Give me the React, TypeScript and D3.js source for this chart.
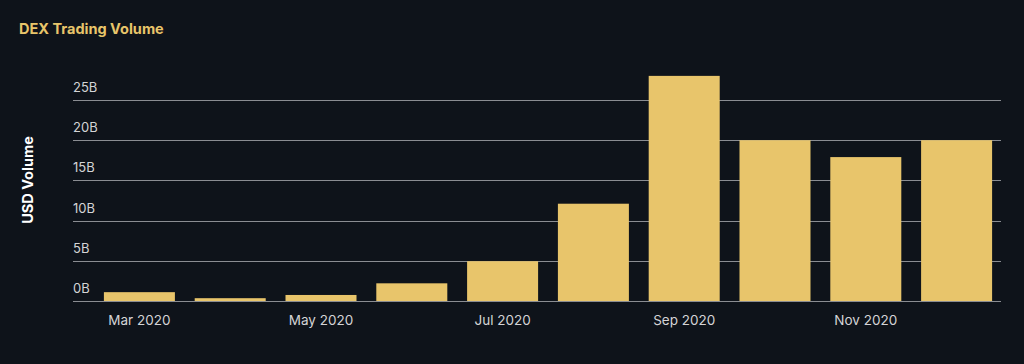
import React, { useEffect, useRef } from 'react';
import * as d3 from 'd3';

const months = ['Mar 2020', 'Apr 2020', 'May 2020', 'Jun 2020', 'Jul 2020', 'Aug 2020', 'Sep 2020', 'Oct 2020', 'Nov 2020', 'Dec 2020'];
const volumes = [1.1, 0.35, 0.75, 2.2, 4.95, 12.1, 28.0, 20.0, 17.9, 20.0]; // billions USD
const yTicks = [0, 5, 10, 15, 20, 25];
const labeledMonths = ['Mar 2020', 'May 2020', 'Jul 2020', 'Sep 2020', 'Nov 2020'];

const W = 1024;
const H = 364;
const FONT = 'Inter, "Open Sans", sans-serif';

export default function App() {
    const svgRef = useRef<SVGSVGElement>(null);

    useEffect(() => {
        if (!svgRef.current) return;
        const svg = d3.select(svgRef.current);
        svg.selectAll('*').remove();

        svg.append('rect').attr('width', W).attr('height', H).attr('fill', '#0e131a');

        const gridLeft = 73;
        const gridRight = 1001;

        const x = d3.scaleBand<string>()
            .domain(months)
            .range([94, 1002])
            .paddingInner(0.218)
            .paddingOuter(0.109);

        const y = d3.scaleLinear().domain([0, 25]).range([301, 100]);

        // Title
        svg.append('text')
            .attr('x', 19)
            .attr('y', 34)
            .text('DEX Trading Volume')
            .style('font-family', FONT)
            .style('font-size', '14.5px')
            .style('font-weight', 'bold')
            .style('fill', '#e8c56a');

        // Y axis title
        svg.append('text')
            .attr('transform', `translate(33,180) rotate(-90)`)
            .attr('text-anchor', 'middle')
            .text('USD Volume')
            .style('font-family', FONT)
            .style('font-size', '14.5px')
            .style('font-weight', 'bold')
            .style('fill', '#ffffff');

        // Grid + tick labels
        const grid = svg.append('g');
        grid.selectAll('line')
            .data(yTicks)
            .enter()
            .append('line')
            .attr('x1', gridLeft)
            .attr('x2', gridRight)
            .attr('y1', d => Math.round(y(d)) + 0.5)
            .attr('y2', d => Math.round(y(d)) + 0.5)
            .attr('stroke', '#8a8d92')
            .attr('stroke-width', 1);

        grid.selectAll('text')
            .data(yTicks)
            .enter()
            .append('text')
            .attr('x', gridLeft)
            .attr('y', d => y(d) - 8)
            .text(d => `${d}B`)
            .style('font-family', FONT)
            .style('font-size', '13px')
            .style('fill', '#d4d4d6');

        // Bars
        svg.selectAll('.bar')
            .data(months)
            .enter()
            .append('rect')
            .attr('class', 'bar')
            .attr('x', d => x(d)!)
            .attr('width', x.bandwidth())
            .attr('y', (d, i) => y(volumes[i]))
            .attr('height', (d, i) => y(0) - y(volumes[i]))
            .attr('fill', '#e8c56b');

        // X labels
        svg.selectAll('.xlabel')
            .data(labeledMonths)
            .enter()
            .append('text')
            .attr('x', d => x(d)! + x.bandwidth() / 2)
            .attr('y', 325)
            .attr('text-anchor', 'middle')
            .text(d => d)
            .style('font-family', FONT)
            .style('font-size', '13.5px')
            .style('fill', '#d4d4d6');
    }, []);

    return (
        <div style={{ position: 'fixed', left: 0, top: 0 }}>
            <svg ref={svgRef} width={W} height={H} style={{ display: 'block' }} />
        </div>
    );
}
